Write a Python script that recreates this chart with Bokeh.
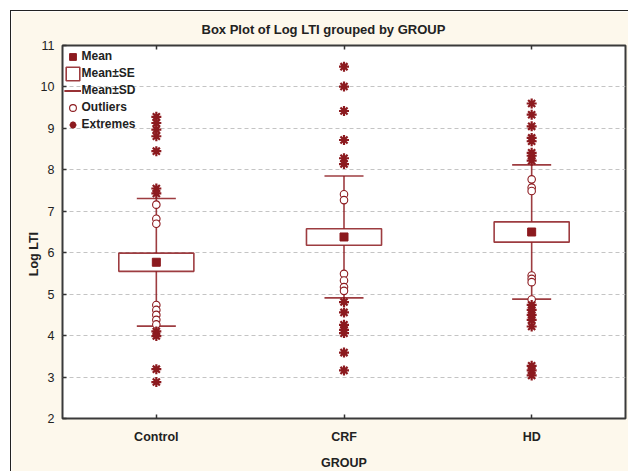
import math
from bokeh.plotting import figure
from bokeh.models import (ColumnDataSource, FactorRange, Range1d, Legend, LegendItem,
                          Title, CategoricalAxis, FixedTicker)
from bokeh.transform import dodge
from bokeh.embed import file_html
from bokeh.resources import INLINE

# ---------------- data ----------------
groups = ["Control", "CRF", "HD"]
means = [5.77, 6.38, 6.50]
se = [0.22, 0.20, 0.245]
sd = [1.54, 1.47, 1.62]

ctrl_outliers = [7.16, 6.82, 6.70, 4.74, 4.62, 4.50, 4.38, 4.27]
crf_outliers = [7.41, 7.27, 5.49, 5.33, 5.17, 5.08]
hd_outliers = [7.77, 7.57, 7.49, 5.45, 5.37, 5.29, 4.87]

ctrl_extremes = [9.28, 9.13, 8.97, 8.81, 8.45, 7.55, 7.43, 4.10, 3.99, 3.19, 2.88]
crf_extremes = [10.49, 10.01, 9.42, 8.72, 8.28, 8.14, 4.81, 4.56, 4.26, 4.14, 4.06, 3.59, 3.16]
hd_extremes = [9.60, 9.33, 9.05, 8.77, 8.69, 8.41, 8.34, 8.22, 4.74, 4.62, 4.50, 4.38, 4.22,
               3.27, 3.16, 3.04]

y_ticks = [2, 3, 4, 5, 6, 7, 8, 9, 10, 11]

title_text = "Box Plot of Log LTI grouped by  GROUP"
x_title = "GROUP"
y_title = "Log LTI"

# ---------------- styling ----------------
MARK = "#8C1A1F"
CREAM = "#FDF8EC"
FONT = "Liberation Sans"

stats = ColumnDataSource(dict(
    group=groups,
    mean=means,
    lo_se=[m - s for m, s in zip(means, se)],
    hi_se=[m + s for m, s in zip(means, se)],
    lo_sd=[m - s for m, s in zip(means, sd)],
    hi_sd=[m + s for m, s in zip(means, sd)],
))
caps = ColumnDataSource(dict(
    group=groups + groups,
    y=[m + s for m, s in zip(means, sd)] + [m - s for m, s in zip(means, sd)],
))
out_src = ColumnDataSource(dict(
    group=[groups[0]] * len(ctrl_outliers) + [groups[1]] * len(crf_outliers) + [groups[2]] * len(hd_outliers),
    y=ctrl_outliers + crf_outliers + hd_outliers,
))
ext_src = ColumnDataSource(dict(
    group=[groups[0]] * len(ctrl_extremes) + [groups[1]] * len(crf_extremes) + [groups[2]] * len(hd_extremes),
    y=ctrl_extremes + crf_extremes + hd_extremes,
))

p = figure(width=618, height=461, output_backend="svg", toolbar_location=None,
           x_range=FactorRange(*groups, range_padding=0), y_range=Range1d(2, 11),
           min_border_left=51, min_border_right=4, min_border_top=32, min_border_bottom=50)
p.styles = {"margin-left": "10px", "margin-top": "10px",
            "border-left": "1px solid #222", "border-top": "1px solid #222"}
p.border_fill_color = CREAM
p.background_fill_color = "white"
p.outline_line_color = "#3a3a3a"
p.outline_line_width = 2

# title (left-aligned with an offset so it sits where the reference has it)
p.title.text = title_text
p.title.align = "left"
p.title.offset = 139
p.title.text_font = FONT
p.title.text_font_size = "13px"
p.title.text_font_style = "bold"
p.title.text_color = "#222222"
p.title.standoff = 17

# grid
p.xgrid.visible = False
p.ygrid.grid_line_color = "#c4c4c4"
p.ygrid.grid_line_dash = "4 3"
p.ygrid.grid_line_width = 1

# axes
p.yaxis.ticker = FixedTicker(ticks=y_ticks)
for ax in (p.xaxis[0], p.yaxis[0]):
    ax.axis_line_color = None
    ax.major_tick_in = 4
    ax.major_tick_out = 0
    ax.minor_tick_line_color = None
    ax.major_tick_line_color = "#333333"
    ax.major_tick_line_width = 1.5
    ax.major_label_text_font = FONT
    ax.major_label_text_font_size = "12.5px"
    ax.major_label_text_color = "#222222"
p.yaxis.major_label_standoff = 8
p.xaxis.major_label_text_font_style = "bold"
p.xaxis.major_label_standoff = 11
p.xaxis.axis_label = x_title
p.xaxis.axis_label_text_font = FONT
p.xaxis.axis_label_text_font_size = "12.5px"
p.xaxis.axis_label_text_font_style = "bold"
p.xaxis.axis_label_text_color = "#222222"
p.xaxis.axis_label_standoff = 9

yax = p.yaxis[0]
if "axis_label_orientation" in yax.properties():
    # rotated clockwise (reads top to bottom); figure-space padding moves it below centre
    yax.axis_label = "\u2007" * 11 + y_title
    yax.axis_label_orientation = math.pi / 2
    yax.axis_label_standoff = 4
    yax.axis_label_text_font = FONT
    yax.axis_label_text_font_size = "12.5px"
    yax.axis_label_text_font_style = "bold"
    yax.axis_label_text_color = "#222222"
else:
    ytitle = Title(text=y_title, align="left", offset=138, text_font=FONT,
                   text_font_size="12.5px", text_font_style="bold", text_color="#222222",
                   standoff=0)
    p.add_layout(ytitle, "left")

top = CategoricalAxis(axis_line_color=None, major_tick_in=4, major_tick_out=0,
                      major_tick_line_color="#333333", major_tick_line_width=1.5,
                      major_label_text_color=None, major_label_text_font_size="1px",
                      major_label_standoff=0)
p.add_layout(top, "above")

# glyphs
r_stem = p.segment(x0="group", y0="lo_sd", x1="group", y1="hi_sd", source=stats,
                   line_color=MARK, line_width=1.6, line_alpha=0.85)
r_caps = p.segment(x0=dodge("group", -0.104, range=p.x_range), y0="y",
                   x1=dodge("group", 0.104, range=p.x_range), y1="y", source=caps,
                   line_color=MARK, line_width=1.6, line_alpha=0.85)
r_box = p.vbar(x="group", width=0.4, bottom="lo_se", top="hi_se", source=stats,
               fill_color="white", line_color=MARK, line_width=1.6, line_alpha=0.85)
r_mean = p.scatter(x="group", y="mean", source=stats, marker="square", size=8,
                   fill_color=MARK, line_color=MARK)
r_out = p.scatter(x="group", y="y", source=out_src, marker="circle", size=7.5,
                  fill_color="white", line_color=MARK, line_width=1.1)
r_ext = p.scatter(x="group", y="y", source=ext_src, marker="asterisk", size=10,
                  line_color=MARK, line_width=2.2)

legend = Legend(items=[
    LegendItem(label="Mean", renderers=[r_mean]),
    LegendItem(label="Mean±SE", renderers=[r_box]),
    LegendItem(label="Mean±SD", renderers=[r_stem, r_caps]),
    LegendItem(label="Outliers", renderers=[r_out]),
    LegendItem(label="Extremes", renderers=[r_ext]),
], location=(1.5, 285.5), glyph_width=17, glyph_height=17, label_height=17,
    spacing=0, padding=0, margin=0, label_standoff=1,
    background_fill_alpha=0, border_line_color=None,
    label_text_font=FONT, label_text_font_size="12px", label_text_font_style="bold",
    label_text_color="#222222")
p.add_layout(legend)

open("out.html", "w").write(file_html(p, INLINE))
